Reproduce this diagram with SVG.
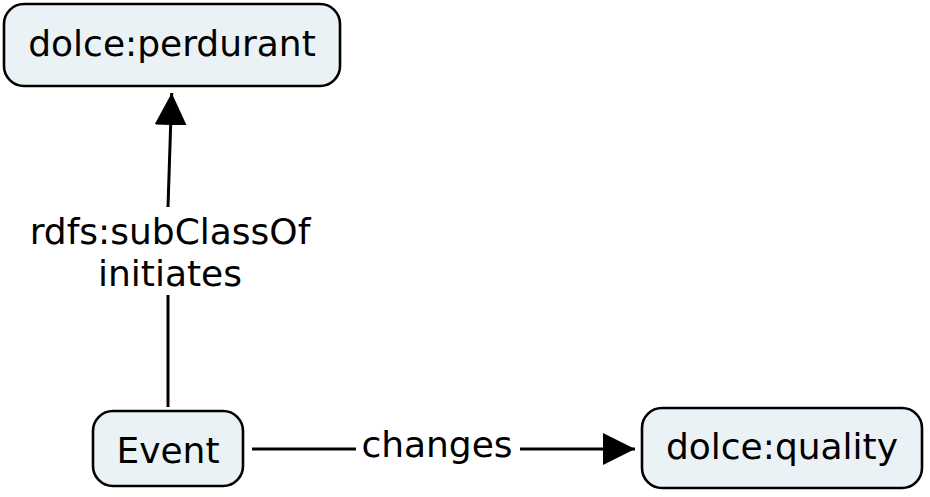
<svg xmlns="http://www.w3.org/2000/svg" width="930" height="497" viewBox="0 0 930 497">
<style>
.node rect{fill:#ebf2f5;stroke:#000;stroke-width:2.6}
text{font-family:"DejaVu Sans",Verdana,sans-serif;font-size:36px;fill:#000;text-anchor:middle}
.edge line{stroke:#000;stroke-width:3}
</style>
<defs>
<marker id="ah" markerUnits="userSpaceOnUse" markerWidth="32" markerHeight="32" refX="32" refY="16" orient="auto">
<path d="M0,0 L32,16 L0,32 Z" fill="#000"/>
</marker>
</defs>
<rect width="930" height="497" fill="#fff"/>
<g id="edges" class="edge">
<line x1="168" y1="407" x2="168" y2="295"/>
<line x1="168" y1="207" x2="171.7" y2="93" marker-end="url(#ah)"/>
<text x="170" y="244">rdfs:subClassOf</text>
<text x="170" y="286">initiates</text>
<line x1="252" y1="449" x2="356" y2="449"/>
<line x1="520" y1="449" x2="635" y2="449" marker-end="url(#ah)"/>
<text x="437" y="457">changes</text>
</g>
<g id="perdurant" class="node">
<rect x="4" y="4" width="336" height="82" rx="20"/>
<text x="172" y="56">dolce:perdurant</text>
</g>
<g id="event" class="node">
<rect x="93" y="411" width="150" height="75" rx="20"/>
<text x="168" y="463">Event</text>
</g>
<g id="quality" class="node">
<rect x="642" y="408" width="280" height="80" rx="20"/>
<text x="782" y="459">dolce:quality</text>
</g>
</svg>
